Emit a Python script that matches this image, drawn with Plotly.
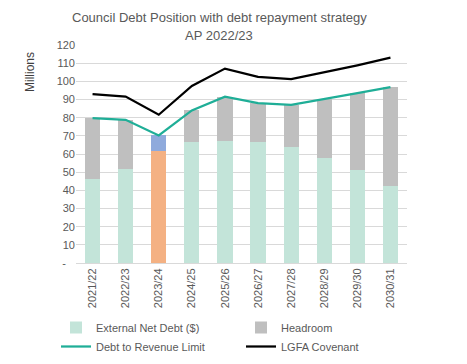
import plotly.graph_objects as go

categories = ["2021/22", "2022/23", "2023/24", "2024/25", "2025/26",
              "2026/27", "2027/28", "2028/29", "2029/30", "2030/31"]
external_net_debt = [46.5, 51.5, 61.6, 66.7, 67.3, 66.7, 64.0, 58.0, 51.2, 42.4]
extra_2023 = [0, 0, 8.6, 0, 0, 0, 0, 0, 0, 0]
headroom = [33.2, 27.3, 0, 17.3, 24.3, 21.3, 23.2, 32.1, 42.3, 54.5]
debt_to_revenue_limit = [79.7, 78.8, 70.2, 84.0, 91.6, 88.0, 87.1, 90.1, 93.5, 96.8]
lgfa_covenant = [92.9, 91.6, 81.6, 97.5, 107.0, 102.5, 101.2, 104.8, 108.8, 113.0]
y_ticks = [0, 10, 20, 30, 40, 50, 60, 70, 80, 90, 100, 110, 120]
y_tick_text = ["-\u00a0\u00a0\u00a0"] + [str(v) for v in y_ticks[1:]]

DEBT_C = "#C3E4D9"
ORANGE = "#F4B183"
BLUE = "#8FAADC"
GRAY = "#BFBFBF"
TEAL = "#1FAE97"
FONT = "Liberation Sans"
TXT = "#595959"
W, H = 467, 364

debt_colors = [ORANGE if c == "2023/24" else DEBT_C for c in categories]

fig = go.Figure()
fig.add_trace(go.Bar(x=categories, y=external_net_debt, name="External Net Debt ($)",
                     marker=dict(color=debt_colors, line=dict(width=0)), legend="legend"))
fig.add_trace(go.Bar(x=categories, y=extra_2023, name="Repayment", showlegend=False,
                     marker=dict(color=BLUE, line=dict(width=0))))
fig.add_trace(go.Bar(x=categories, y=headroom, name="Headroom",
                     marker=dict(color=GRAY, line=dict(width=0)), legend="legend2"))
fig.add_trace(go.Scatter(x=categories, y=debt_to_revenue_limit, name="Debt to Revenue Limit",
                         mode="lines", line=dict(color=TEAL, width=2.25), legend="legend"))
fig.add_trace(go.Scatter(x=categories, y=lgfa_covenant, name="LGFA Covenant",
                         mode="lines", line=dict(color="black", width=2.25), legend="legend2"))

fig.update_layout(
    width=W, height=H,
    margin=dict(l=76, r=60, t=45, b=101, autoexpand=False),
    barmode="stack", bargap=0.54,
    plot_bgcolor="white", paper_bgcolor="white",
    font=dict(family=FONT, size=11, color=TXT),
    legend=dict(x=56 / W, xref="container", y=1 - 313 / H, yref="container",
                xanchor="left", yanchor="top", orientation="v", traceorder="normal",
                font=dict(size=11, color=TXT), bgcolor="rgba(0,0,0,0)"),
    legend2=dict(x=241 / W, xref="container", y=1 - 313 / H, yref="container",
                 xanchor="left", yanchor="top", orientation="v", traceorder="normal",
                 font=dict(size=11, color=TXT), bgcolor="rgba(0,0,0,0)"),
    xaxis=dict(type="category", showline=True, linecolor="#D9D9D9", linewidth=1,
               ticks="", tickangle=-90, tickfont=dict(size=11, color=TXT),
               showgrid=False),
    yaxis=dict(range=[0, 120], tickvals=y_ticks, ticktext=y_tick_text,
               showgrid=True, gridcolor="#D9D9D9", gridwidth=1, zeroline=False,
               ticks="", tickfont=dict(size=11, color=TXT), showline=False),
    showlegend=True,
)

fig.add_annotation(text="Council Debt Position with debt repayment strategy",
                   xref="paper", yref="paper", x=(219 - 76) / 331, y=(263 - 17) / 218,
                   showarrow=False, font=dict(size=13, color=TXT), xanchor="center", yanchor="middle")
fig.add_annotation(text="AP 2022/23",
                   xref="paper", yref="paper", x=(219 - 76) / 331, y=(263 - 36) / 218,
                   showarrow=False, font=dict(size=13, color=TXT), xanchor="center", yanchor="middle")
fig.add_annotation(text="Millions", xref="paper", yref="paper",
                   x=(30 - 76) / 331, y=(263 - 72) / 218, showarrow=False, textangle=-90,
                   font=dict(size=12, color="#404040"), xanchor="center", yanchor="middle")

fig.write_html("out.html", config={"displayModeBar": False},
               post_script="document.body.style.margin='0';document.body.style.overflow='hidden';")
